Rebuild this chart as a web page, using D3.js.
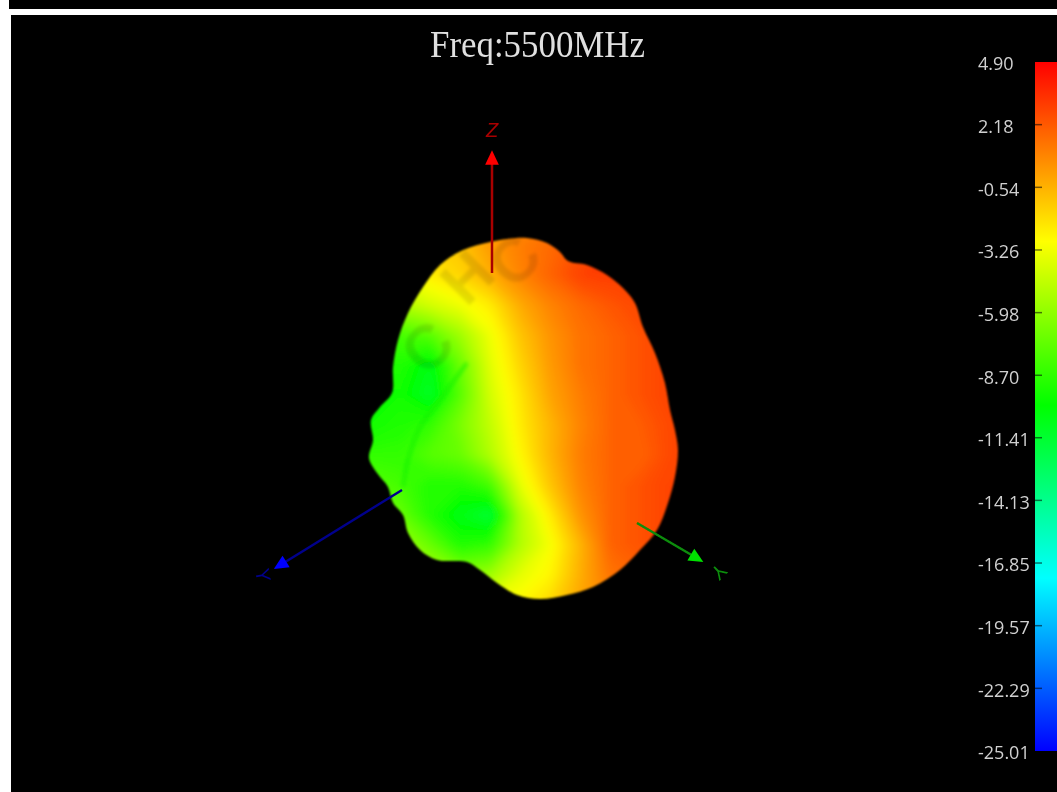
<!DOCTYPE html>
<html>
<head>
<meta charset="utf-8">
<script src="https://cdn.jsdelivr.net/npm/d3@7"></script>
<style>
  html, body { margin: 0; padding: 0; background: #fff; overflow: hidden; }
  svg { display: block; }
</style>
</head>
<body>
<div id="chart"></div>
<script>
/* global d3 */

const width = 1057,
  height = 792

const title = 'Freq:5500MHz'

// colour bar, dB
const gainTicks = [4.90, 2.18, -0.54, -3.26, -5.98, -8.70, -11.41, -14.13, -16.85, -19.57, -22.29, -25.01]
const gainStops = [-25.01, -17.5, -10, -2.9, 4.9]
const stopColors = ['#0000ff', '#00ffff', '#00ff00', '#ffff00', '#ff0000']

// projected outline of the pattern, view units
const outlineU = [3.5, 5.5, 6.8, 7.6, 9.5, 11.5, 13.1, 14.3, 15.1, 16.3, 17.3, 17.8, 18.3, 18.6, 18.3, 17.6, 16.5, 14.8, 12.8, 10.1, 7.5, 4.8, 2.5, 0.5, -1.2, -2.5, -5.5, -7.2, -8.4, -8.9, -9.9, -10.4, -11.5, -12.3, -11.9, -12.1, -11.2, -10, -9.9, -9.4, -8.4, -6.9, -5.2, -2.9, -0.2, 1.5]
const outlineV = [25.2, 24.7, 23.8, 22.9, 22.5, 21.5, 20.2, 18.7, 16.3, 13.7, 10.7, 8, 6, 4, 1.3, -1.3, -4, -6, -8, -9.7, -10.5, -10.9, -10.5, -9.3, -8, -7.2, -7, -6, -4.3, -2.5, -1.3, 0.3, 1.7, 3.2, 5, 7, 8.3, 9.7, 12.3, 15, 17.7, 20.3, 22.5, 24, 24.8, 25.1]

// fold between the back lobe and the main body
const foldU = [-2.5, -5.2, -7.2, -8.4, -8.9]
const foldV = [12.7, 9, 6.3, 3, 0.3]

// gain, one row per v
const gridU = [-15.2, -12.2, -9.2, -6.2, -3.2, -0.2, 2.8, 5.8, 8.8, 11.8, 14.8, 17.8, 20.8]
const gridV = [27.5, 24.5, 21.5, 18.5, 15.5, 12.5, 9.5, 6.5, 3.5, 0.5, -2.5, -5.5, -8.5, -11.5, -14.5]
const gainGrid = [
  [-2, -2, -2, -1.5, -1, 0, 0.5, 1, 1.5, 2.5, 3, 3, 3],
  [-3, -2.5, -2, -1.5, -1, 0.3, 1.2, 1.8, 2.5, 3, 3, 3, 3],
  [-4, -3.5, -3, -2.2, -1.5, -0.3, 1, 2, 3, 3.2, 3, 3, 3],
  [-7, -6, -5, -4, -3.2, -2.2, -0.2, 1, 1.8, 2.4, 2.8, 3, 3],
  [-9, -8.5, -8, -7.5, -5.5, -3.2, -1, 0.5, 1.5, 2, 2.5, 3, 3],
  [-9.5, -9.5, -9, -10.5, -7, -3.6, -1.5, 0.3, 1.5, 2, 2.5, 3, 3],
  [-10, -10, -9.5, -11, -7.5, -4, -2, 0, 1.2, 2, 2.5, 3, 3],
  [-9.5, -9.5, -9, -8.5, -6.5, -4.5, -2.2, -0.5, 1, 2, 2.2, 2.8, 3],
  [-8.5, -8.5, -8.5, -7.5, -7, -5, -2.6, -0.5, 1.2, 2, 2, 2.8, 3],
  [-7.5, -7.5, -8, -9, -9, -8, -3.5, -1, 1, 2, 2.5, 3, 3],
  [-7, -7, -7, -9, -10.5, -11.5, -5, -2.2, 0.5, 2, 2.5, 3, 3],
  [-6, -6, -5.5, -7, -9, -8.5, -5, -3, -0.5, 2, 2.5, 3, 3],
  [-5, -4, -4, -5, -6, -5.5, -3.5, -2.5, -0.3, 1.5, 2, 2, 2],
  [-3, -3, -3, -3, -3, -3, -2.5, -1.5, 0, 1, 1.5, 2, 2],
  [-3, -3, -3, -3, -3, -3, -2.5, -1.5, 0, 1, 1.5, 2, 2]
]

// axes, tail then tip, view units
const axisNames = ['Z', 'Y', 'Y']
const axisTailU = [0, -9, 14.5]
const axisTailV = [21.7, 0, -3.3]
const axisTipU = [0, -21, 20.3]
const axisTipV = [33, -7.4, -6.7]
const axisLabelU = [0, -22.9, 22.7]
const axisLabelV = [36, -8.5, -8.2]
const axisLabelTurn = [0, 80, 135]
const axisLine = ['#a80000', '#00008c', '#0a8c0a']
const axisHead = ['#ff0000', '#0000ff', '#00e000']

// watermark letters lying over the surface
const markLetters = ['C', 'H', 'C']
const markU = [-6.5, -2.5, 2.2]
const markV = [14.3, 21.3, 23]

// Scales
const x = d3.scaleLinear().domain([-49.2, 56.5]).range([0, width])
const y = d3.scaleLinear().domain([49, -30.2]).range([0, height])
const colorScale = d3.scaleLinear().domain(gainStops).range(stopColors)
const barScale = d3.scaleLinear().domain([4.90, -25.01]).range([62, 751])

const svg = d3.select('#chart')
  .append('svg')
  .attr('width', width)
  .attr('height', height)
  .style('background', '#fff')

const defs = svg.append('defs')

let soft = (id, dev) => {
  defs.append('filter')
    .attr('id', id)
    .attr('x', '-10%').attr('y', '-10%')
    .attr('width', '120%').attr('height', '120%')
    .append('feGaussianBlur')
    .attr('stdDeviation', dev)
}
soft('blurText', 0.5)
soft('blurEdge', 0.8)
soft('blurField', 4)
soft('blurFold', 1.6)
soft('blurMark', 1)

// Panels
svg.append('rect').attr('x', 9).attr('y', 0).attr('width', width - 9).attr('height', 9).attr('fill', '#000')
svg.append('rect').attr('x', 11).attr('y', 15).attr('width', width - 11).attr('height', height - 15).attr('fill', '#000')

// Title
svg.append('text')
  .attr('x', 430)
  .attr('y', 57)
  .attr('textLength', 215)
  .attr('lengthAdjust', 'spacingAndGlyphs')
  .attr('font-family', '"Liberation Serif", serif')
  .attr('font-size', 37)
  .attr('fill', '#e0e0e0')
  .attr('filter', 'url(#blurText)')
  .text(title)

// Surface: gain contours clipped by the outline
const outlinePoints = outlineU.map((u, i) => [x(u), y(outlineV[i])])
const outlinePath = d3.line().curve(d3.curveCatmullRomClosed.alpha(0.5))(outlinePoints)

defs.append('clipPath').attr('id', 'lobe').append('path').attr('d', outlinePath)

const flat = gainGrid.flat()
const levels = d3.range(-14, 5, 0.25)
const contours = d3.contours()
  .size([gridU.length, gridV.length])
  .thresholds(levels)(flat)

const gx = d3.scaleLinear().domain([0.5, gridU.length - 0.5]).range([x(gridU[0]), x(gridU[gridU.length - 1])])
const gy = d3.scaleLinear().domain([0.5, gridV.length - 0.5]).range([y(gridV[0]), y(gridV[gridV.length - 1])])
const gridPath = d3.geoPath(d3.geoTransform({
  point: function (px, py) { this.stream.point(gx(px), gy(py)) }
}))

const surface = svg.append('g')
  .attr('filter', 'url(#blurEdge)')
  .append('g')
  .attr('clip-path', 'url(#lobe)')

surface.append('g')
  .attr('filter', 'url(#blurField)')
  .selectAll('path')
  .data(contours)
  .enter()
  .append('path')
  .attr('d', gridPath)
  .attr('fill', d => colorScale(d.value))

surface.append('path')
  .attr('d', d3.line().curve(d3.curveCatmullRom)(foldU.map((u, i) => [x(u), y(foldV[i])])))
  .attr('fill', 'none')
  .attr('stroke', '#10f000')
  .attr('stroke-width', 4)
  .attr('stroke-opacity', 0.6)
  .attr('filter', 'url(#blurFold)')

surface.append('g')
  .attr('filter', 'url(#blurMark)')
  .selectAll('text')
  .data(markLetters)
  .enter()
  .append('text')
  .attr('transform', (d, i) => `translate(${x(markU[i])},${y(markV[i])}) rotate(-45)`)
  .attr('text-anchor', 'middle')
  .attr('dy', '0.35em')
  .attr('font-family', '"Liberation Sans", sans-serif')
  .attr('font-weight', 'bold')
  .attr('font-size', 62)
  .attr('fill', '#000')
  .attr('fill-opacity', 0.1)
  .text(d => d)

// Axes
const axes = svg.append('g')
  .attr('filter', 'url(#blurText)')
  .selectAll('g')
  .data(axisNames)
  .enter()
  .append('g')

axes.append('line')
  .attr('x1', (d, i) => x(axisTailU[i]))
  .attr('y1', (d, i) => y(axisTailV[i]))
  .attr('x2', (d, i) => x(axisTipU[i]))
  .attr('y2', (d, i) => y(axisTipV[i]))
  .attr('stroke', (d, i) => axisLine[i])
  .attr('stroke-width', 2.5)

axes.append('path')
  .attr('d', d3.symbol(d3.symbolTriangle, 100))
  .attr('transform', (d, i) => {
    const dx = x(axisTipU[i]) - x(axisTailU[i]),
      dy = y(axisTipV[i]) - y(axisTailV[i]),
      turn = Math.atan2(dy, dx) * 180 / Math.PI + 90
    return `translate(${x(axisTipU[i])},${y(axisTipV[i])}) rotate(${turn}) scale(0.9,1.1)`
  })
  .attr('fill', (d, i) => axisHead[i])

axes.append('text')
  .attr('transform', (d, i) => `translate(${x(axisLabelU[i])},${y(axisLabelV[i])}) rotate(${axisLabelTurn[i]})`)
  .attr('text-anchor', 'middle')
  .attr('dy', '0.35em')
  .attr('font-family', '"Liberation Sans", sans-serif')
  .attr('font-size', 20)
  .attr('font-style', (d, i) => i === 0 ? 'italic' : 'normal')
  .attr('fill', (d, i) => axisLine[i])
  .text(d => d)

// Colour bar
const barGradient = defs.append('linearGradient')
  .attr('id', 'barFill')
  .attr('x1', 0).attr('y1', 0)
  .attr('x2', 0).attr('y2', 1)

barGradient.selectAll('stop')
  .data(gainStops.slice().reverse())
  .enter()
  .append('stop')
  .attr('offset', d => (barScale(d) - 62) / (751 - 62))
  .attr('stop-color', d => colorScale(d))

svg.append('rect')
  .attr('x', 1035)
  .attr('y', barScale(4.90))
  .attr('width', 22)
  .attr('height', barScale(-25.01) - barScale(4.90))
  .attr('fill', 'url(#barFill)')

const ticks = svg.append('g').selectAll('g')
  .data(gainTicks)
  .enter()
  .append('g')
  .attr('transform', d => `translate(0,${barScale(d)})`)

ticks.filter((d, i) => i > 0 && i < gainTicks.length - 1)
  .append('line')
  .attr('x1', 1035)
  .attr('x2', 1042)
  .attr('stroke', '#000')
  .attr('stroke-opacity', 0.55)
  .attr('stroke-width', 1.5)

ticks.append('text')
  .attr('x', 978)
  .attr('y', 2)
  .attr('dy', '0.35em')
  .attr('font-family', '"Open Sans", sans-serif')
  .attr('font-size', 18)
  .attr('fill', '#d0d0d0')
  .attr('filter', 'url(#blurText)')
  .text(d => d.toFixed(2))
</script>
</body>
</html>
